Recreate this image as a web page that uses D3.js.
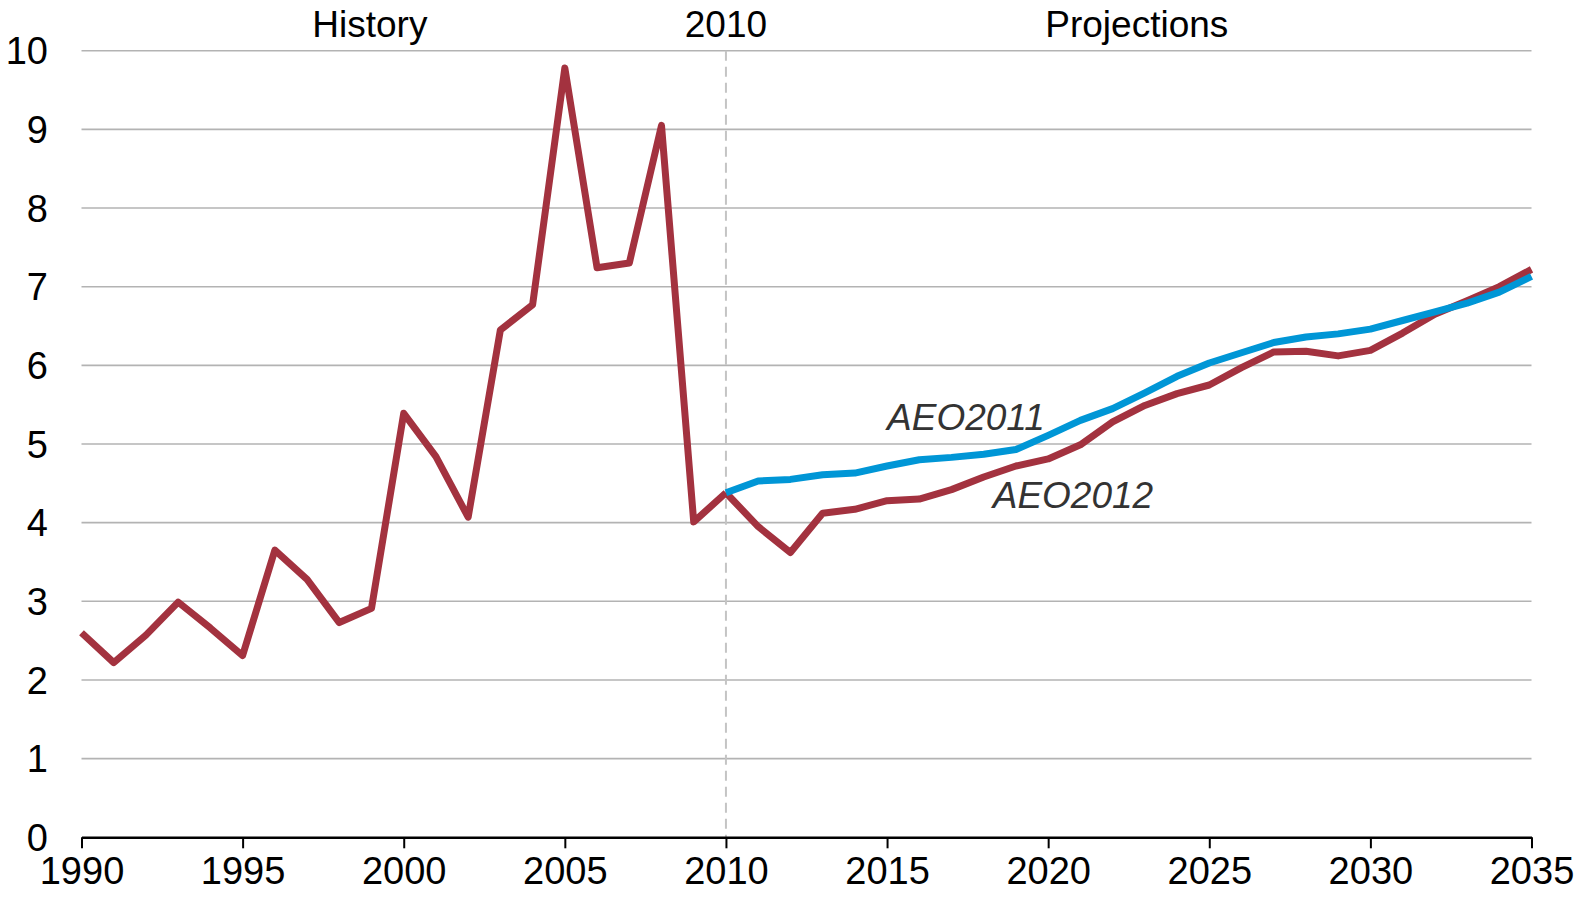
<!DOCTYPE html>
<html>
<head>
<meta charset="utf-8">
<script src="https://cdn.jsdelivr.net/npm/d3@7"></script>
<style>
  body { margin: 0; background: #fff; }
  text { font-family: "Liberation Sans", Arial, sans-serif; }
</style>
</head>
<body>
<div id="container"></div>
<script>
// history 1990-2010
var historyYears = d3.range(1990, 2011);
var historyValues = [2.60, 2.22, 2.57, 2.99, 2.66, 2.31, 3.65, 3.28, 2.73, 2.91,
                     5.39, 4.84, 4.07, 6.45, 6.77, 9.78, 7.24, 7.30, 9.05, 4.01, 4.38];

// projections 2010-2035
var projYears = d3.range(2010, 2036);
var aeo2012 = [4.38, 3.95, 3.62, 4.12, 4.17, 4.28, 4.30, 4.42, 4.58, 4.72,
               4.81, 4.99, 5.28, 5.49, 5.64, 5.75, 5.97, 6.17, 6.18, 6.12,
               6.19, 6.41, 6.65, 6.82, 7.00, 7.22];
var aeo2011 = [4.38, 4.53, 4.55, 4.61, 4.63, 4.72, 4.80, 4.83, 4.87, 4.93,
               5.11, 5.30, 5.45, 5.65, 5.86, 6.03, 6.16, 6.29, 6.36, 6.40,
               6.46, 6.57, 6.68, 6.79, 6.93, 7.13];

var xTicks = [1990, 1995, 2000, 2005, 2010, 2015, 2020, 2025, 2030, 2035];
var yTicks = [0, 1, 2, 3, 4, 5, 6, 7, 8, 9, 10];

var width = 1581, height = 902;
var red = "#a3323f", blue = "#0096d6";

var svg = d3.select("#container").append("svg")
    .attr("width", width)
    .attr("height", height);

var x = d3.scaleLinear().domain([1990, 2035]).range([81.5, 1531.5]);
var y = d3.scaleLinear().domain([0, 10]).range([837.3, 50.7]);

// gridlines
svg.append("g")
    .selectAll("line")
    .data(yTicks.filter(function(d) { return d > 0; }))
    .enter().append("line")
    .attr("x1", x(1990)).attr("x2", x(2035))
    .attr("y1", function(d) { return y(d); })
    .attr("y2", function(d) { return y(d); })
    .style("stroke", "#b3b3b3")
    .style("stroke-width", 1.6);

// y labels
svg.append("g")
    .selectAll("text")
    .data(yTicks)
    .enter().append("text")
    .attr("x", 48)
    .attr("y", function(d) { return y(d); })
    .attr("dy", "0.36em")
    .attr("text-anchor", "end")
    .style("font-size", "38px")
    .text(function(d) { return d; });

// 2010 divider
svg.append("line")
    .attr("x1", x(2010)).attr("x2", x(2010))
    .attr("y1", y(10)).attr("y2", y(0))
    .style("stroke", "#c4c4c4")
    .style("stroke-width", 2)
    .style("stroke-dasharray", "10,6");

// x axis
var xAxis = d3.axisBottom(x)
    .tickValues(xTicks)
    .tickFormat(d3.format("d"))
    .tickSize(11)
    .tickSizeOuter(0)
    .tickPadding(9);

var gx = svg.append("g")
    .attr("transform", "translate(0," + y(0) + ")")
    .call(xAxis);
gx.select(".domain").style("stroke", "#000").style("stroke-width", 2.5);
gx.selectAll(".tick line").style("stroke", "#000").style("stroke-width", 2);
gx.selectAll(".tick text")
    .style("font-size", "38px")
    .style("font-family", "Liberation Sans, Arial, sans-serif")
    .attr("fill", "#000");

var line = d3.line()
    .x(function(d) { return x(d[0]); })
    .y(function(d) { return y(d[1]); });

function drawLine(years, values, color) {
    svg.append("path")
        .datum(d3.zip(years, values))
        .attr("d", line)
        .style("fill", "none")
        .style("stroke", color)
        .style("stroke-width", 7)
        .style("stroke-linejoin", "round");
}

drawLine(historyYears, historyValues, red);
drawLine(projYears, aeo2012, red);
drawLine(projYears, aeo2011, blue);

// series labels
svg.append("text")
    .attr("x", x(2015)).attr("y", y(5.18))
    .style("font-size", "37px").style("font-style", "italic")
    .attr("fill", "#333")
    .text("AEO2011");

svg.append("text")
    .attr("x", x(2018.28)).attr("y", y(4.19))
    .style("font-size", "37px").style("font-style", "italic")
    .attr("fill", "#333")
    .text("AEO2012");

// top labels
var topLabels = [
    {year: 1998.95, text: "History"},
    {year: 2010, text: "2010"},
    {year: 2022.75, text: "Projections"}
];
svg.append("g")
    .selectAll("text")
    .data(topLabels)
    .enter().append("text")
    .attr("x", function(d) { return x(d.year); })
    .attr("y", 37)
    .attr("text-anchor", "middle")
    .style("font-size", "37px")
    .text(function(d) { return d.text; });
</script>
</body>
</html>
